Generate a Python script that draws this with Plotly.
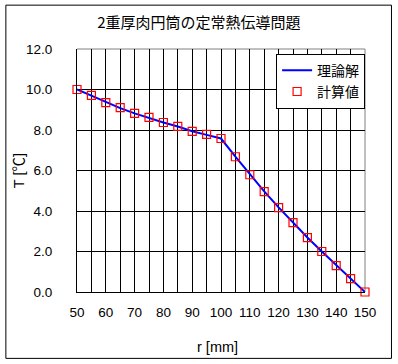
import plotly.graph_objects as go

# Data
r_mm = [50, 55, 60, 65, 70, 75, 80, 85, 90, 95, 100,
        105, 110, 115, 120, 125, 130, 135, 140, 145, 150]
T_theory = [10.0, 9.70, 9.36, 9.08, 8.82, 8.59, 8.37, 8.17, 7.94, 7.76, 7.58,
            6.68, 5.80, 4.97, 4.18, 3.42, 2.69, 2.00, 1.32, 0.66, 0.0]
T_calc = [10.0, 9.71, 9.35, 9.10, 8.82, 8.62, 8.37, 8.18, 7.93, 7.78, 7.58,
          6.68, 5.79, 4.96, 4.17, 3.43, 2.69, 2.00, 1.30, 0.66, 0.0]
x_ticks = [50, 60, 70, 80, 90, 100, 110, 120, 130, 140, 150]
y_ticks = [0, 2, 4, 6, 8, 10, 12]

FONT = "Liberation Sans, Noto Sans CJK JP, sans-serif"
CJK = "Noto Sans CJK JP, sans-serif"

fig = go.Figure()
fig.add_trace(go.Scatter(x=r_mm, y=T_theory, mode="lines", name="理論解",
                         line=dict(color="#0000FF", width=2), cliponaxis=False))
fig.add_trace(go.Scatter(x=r_mm, y=T_calc, mode="markers", name="計算値",
                         marker=dict(symbol="square-open", size=8, color="#FF0000",
                                     line=dict(color="#FF0000", width=1.2)),
                         cliponaxis=False))

W, H = 398, 364
L, R, T, B = 76.7, 365.0, 49.3, 292.0
pw, ph = R - L, B - T

def px(x):
    return (x - L) / pw

def py(y):
    return (B - y) / ph

fig.update_layout(
    width=W, height=H,
    margin=dict(l=L, r=W - R, t=T, b=H - B, pad=0, autoexpand=False),
    paper_bgcolor="white", plot_bgcolor="white",
    font=dict(family=FONT, size=13.5, color="black"),
    title=dict(text="2重厚肉円筒の定常熱伝導問題", font=dict(family=CJK, size=15, color="black"),
               x=px(198.7), xref="paper", xanchor="center",
               y=1 - 23 / H, yref="container", yanchor="middle"),
    showlegend=True,
    legend=dict(x=px(276), y=py(54), xanchor="left", yanchor="top",
                bgcolor="white", bordercolor="black", borderwidth=1,
                font=dict(family=CJK, size=14, color="black"),
                itemwidth=30, tracegroupgap=2),
    xaxis=dict(range=[50, 150], tickmode="array", tickvals=x_ticks,
               ticktext=[str(v) for v in x_ticks],
               showgrid=True, gridcolor="black", gridwidth=1,
               minor=dict(dtick=5, tick0=50, showgrid=True, gridcolor="black", gridwidth=1),
               showline=True, linecolor="black", linewidth=1,
               ticks="", ticklabelstandoff=8, zeroline=False, automargin=False,
               fixedrange=True),
    yaxis=dict(range=[0, 12], tickmode="array", tickvals=y_ticks,
               ticktext=[f"{v:.1f}" for v in y_ticks],
               showgrid=True, gridcolor="black", gridwidth=1,
               showline=True, linecolor="black", linewidth=1,
               ticks="", ticklabelstandoff=21, zeroline=False, automargin=False,
               fixedrange=True),
    annotations=[
        dict(text="r [mm]", xref="paper", yref="paper", x=px(217), y=py(346.7),
             xanchor="center", yanchor="middle", showarrow=False,
             font=dict(family=FONT, size=14.5, color="black")),
        dict(text="T [℃]", xref="paper", yref="paper", x=px(18), y=py(171),
             xanchor="center", yanchor="middle", showarrow=False, textangle=-90,
             font=dict(family=FONT, size=14.5, color="black")),
    ],
)

# gray top/right plot border (between gridlines and traces)
fig.add_shape(type="line", xref="paper", yref="paper", x0=0, x1=1, y0=1, y1=1,
              line=dict(color="#808080", width=1), layer="between")
fig.add_shape(type="line", xref="paper", yref="paper", x0=1, x1=1, y0=0, y1=1,
              line=dict(color="#808080", width=1), layer="between")
# outer chart border
ox0, ox1, oy0, oy1 = px(5.5), px(391.5), py(358.3), py(5.5)
for (a, b, c, d) in [(ox0, ox1, oy0, oy0), (ox0, ox1, oy1, oy1),
                     (ox0, ox0, oy0, oy1), (ox1, ox1, oy0, oy1)]:
    fig.add_shape(type="line", xref="paper", yref="paper", x0=a, x1=b, y0=c, y1=d,
                  line=dict(color="black", width=1), layer="above")

fig.write_html("out.html", config={"displayModeBar": False},
               post_script="document.body.style.margin='0px';document.body.style.overflow='hidden';")
